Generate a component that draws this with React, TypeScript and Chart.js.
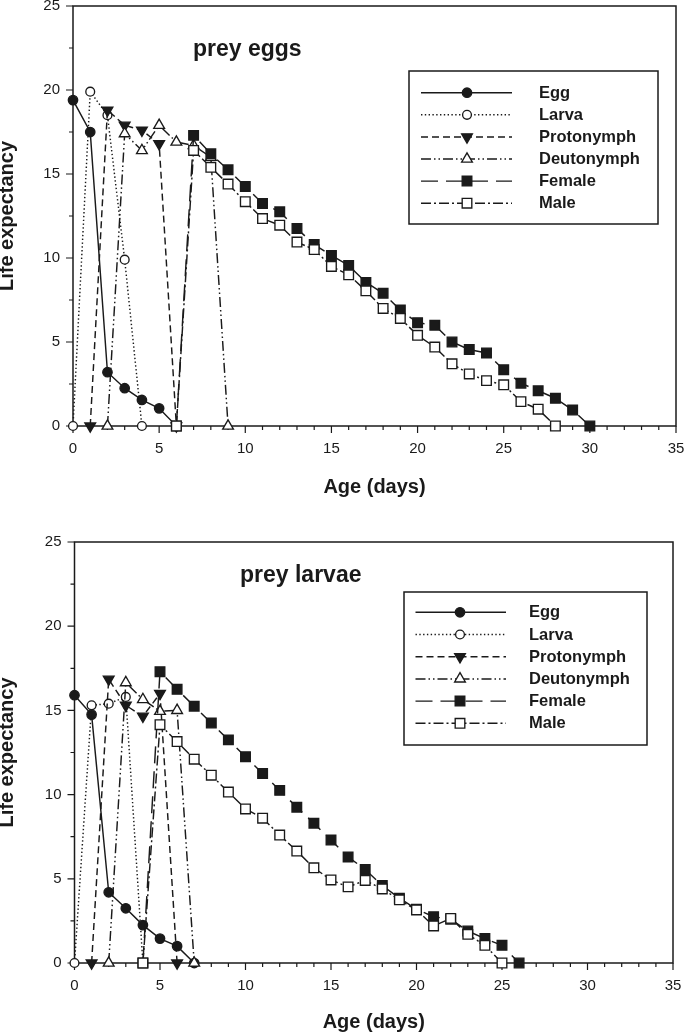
import React, { useEffect, useRef } from 'react';
import { Chart, registerables } from 'chart.js';
import { drawPoint } from 'chart.js/helpers';

Chart.register(...registerables);

const FONT = "'Liberation Sans', Arial, Helvetica, sans-serif";
const INK = '#1a1a1a';

// ---------- axis ----------
const X_MIN = 0;
const X_MAX = 35;
const Y_MIN = 0;
const Y_MAX = 25;
const X_TITLE = 'Age (days)';
const Y_TITLE = 'Life expectancy';
const STAGES = ['Egg', 'Larva', 'Protonymph', 'Deutonymph', 'Female', 'Male'];

// ---------- panel 1: prey eggs ----------
const eggsTitle = 'prey eggs';
const eggsEggDays = [0, 1, 2, 3, 4, 5, 6];
const eggsEgg = [19.4, 17.5, 3.2, 2.25, 1.55, 1.05, 0];
const eggsLarvaDays = [0, 1, 2, 3, 4];
const eggsLarva = [0, 19.9, 18.5, 9.9, 0];
const eggsProtoDays = [1, 2, 3, 4, 5, 6];
const eggsProto = [0, 18.8, 17.9, 17.6, 16.8, 0];
const eggsDeutoDays = [2, 3, 4, 5, 6, 7, 8, 9];
const eggsDeuto = [0, 17.4, 16.4, 17.9, 16.9, 16.7, 16.0, 0];
const eggsFemaleDays = [6, 7, 8, 9, 10, 11, 12, 13, 14, 15, 16, 17, 18, 19, 20, 21, 22, 23, 24, 25, 26, 27, 28, 29, 30];
const eggsFemale = [0, 17.3, 16.2, 15.25, 14.25, 13.25, 12.75, 11.75, 10.8, 10.15, 9.55, 8.55, 7.9, 6.9, 6.15, 6.0, 5.0, 4.55, 4.35, 3.35, 2.55, 2.1, 1.65, 0.95, 0];
const eggsMaleDays = [6, 7, 8, 9, 10, 11, 12, 13, 14, 15, 16, 17, 18, 19, 20, 21, 22, 23, 24, 25, 26, 27, 28];
const eggsMale = [0, 16.4, 15.4, 14.4, 13.35, 12.35, 11.95, 10.95, 10.5, 9.5, 9.0, 8.05, 7.0, 6.4, 5.4, 4.7, 3.7, 3.1, 2.7, 2.45, 1.45, 1.0, 0];

// ---------- panel 2: prey larvae ----------
const larvaeTitle = 'prey larvae';
const larvaeEggDays = [0, 1, 2, 3, 4, 5, 6, 7];
const larvaeEgg = [15.9, 14.75, 4.2, 3.25, 2.25, 1.45, 1.0, 0];
const larvaeLarvaDays = [0, 1, 2, 3, 4];
const larvaeLarva = [0, 15.3, 15.4, 15.8, 0];
const larvaeProtoDays = [1, 2, 3, 4, 5, 6];
const larvaeProto = [0, 16.85, 15.3, 14.65, 16.0, 0];
const larvaeDeutoDays = [2, 3, 4, 5, 6, 7];
const larvaeDeuto = [0, 16.65, 15.65, 14.95, 15.0, 0];
const larvaeFemaleDays = [4, 5, 6, 7, 8, 9, 10, 11, 12, 13, 14, 15, 16, 17, 18, 19, 20, 21, 22, 23, 24, 25, 26];
const larvaeFemale = [0, 17.3, 16.25, 15.25, 14.25, 13.25, 12.25, 11.25, 10.25, 9.25, 8.3, 7.3, 6.3, 5.55, 4.6, 3.85, 3.2, 2.75, 2.6, 1.9, 1.45, 1.05, 0];
const larvaeMaleDays = [4, 5, 6, 7, 8, 9, 10, 11, 12, 13, 14, 15, 16, 17, 18, 19, 20, 21, 22, 23, 24, 25];
const larvaeMale = [0, 14.15, 13.15, 12.1, 11.15, 10.15, 9.15, 8.6, 7.6, 6.65, 5.65, 4.93, 4.52, 4.9, 4.4, 3.75, 3.15, 2.2, 2.65, 1.7, 1.05, 0];

// ---------- styles per stage ----------
const STAGE_STYLES = [
  { dash: [], pointStyle: 'circle', rotation: 0, radius: 4.7, fill: INK },
  { dash: [1.4, 2.4], pointStyle: 'circle', rotation: 0, radius: 4.4, fill: '#ffffff' },
  { dash: [7, 4], pointStyle: 'triangle', rotation: 180, radius: 6.2, fill: INK },
  { dash: [10, 3, 1.5, 3, 1.5, 3], pointStyle: 'triangle', rotation: 0, radius: 6.2, fill: '#ffffff' },
  { dash: [17, 8], pointStyle: 'rect', rotation: 0, radius: 6.8, fill: INK },
  { dash: [10, 3, 2, 3], pointStyle: 'rect', rotation: 0, radius: 6.8, fill: '#ffffff' },
];

function pts(days: number[], vals: number[]) {
  return days.map((d, i) => ({ x: d, y: vals[i] }));
}

function buildDatasets(series: { days: number[]; vals: number[] }[]) {
  return series.map((s, i) => {
    const st = STAGE_STYLES[i];
    return {
      label: STAGES[i],
      data: pts(s.days, s.vals),
      borderColor: INK,
      borderWidth: 1.45,
      borderDash: st.dash,
      pointStyle: st.pointStyle,
      pointRotation: st.rotation,
      pointRadius: st.radius,
      pointBackgroundColor: st.fill,
      pointBorderColor: INK,
      pointBorderWidth: 1.35,
      tension: 0,
      fill: false,
      clip: false,
      order: series.length - i,
    };
  });
}

const frameTicksPlugin = {
  id: 'frameTicks',
  beforeDatasetsDraw(chart: any) {
    const { ctx, chartArea: a, scales } = chart;
    ctx.save();
    ctx.strokeStyle = INK;
    ctx.lineWidth = 1.5;
    ctx.strokeRect(a.left, a.top, a.right - a.left, a.bottom - a.top);
    ctx.lineWidth = 1.2;
    ctx.beginPath();
    const xs = scales.x;
    xs.ticks.forEach((t: any) => {
      const p = xs.getPixelForValue(t.value);
      const len = t.value % 5 === 0 ? 7 : 4;
      ctx.moveTo(p, a.bottom);
      ctx.lineTo(p, a.bottom + len);
    });
    const ys = scales.y;
    ys.ticks.forEach((t: any) => {
      const p = ys.getPixelForValue(t.value);
      const len = t.value % 5 === 0 ? 7 : 4;
      ctx.moveTo(a.left, p);
      ctx.lineTo(a.left - len, p);
    });
    ctx.stroke();
    ctx.restore();
  },
};

const decorPlugin = {
  id: 'panelDecor',
  afterDraw(chart: any, _args: any, o: any) {
    const { ctx, chartArea: a } = chart;
    ctx.save();
    // panel title
    ctx.fillStyle = INK;
    ctx.font = `bold ${o.titleSize}px ${FONT}`;
    ctx.textAlign = 'left';
    ctx.textBaseline = 'alphabetic';
    ctx.fillText(o.title, a.left + o.titleDx, a.top + o.titleDy);
    // legend box
    const bx = a.left + o.boxDx;
    const by = a.top + o.boxDy;
    ctx.strokeStyle = INK;
    ctx.lineWidth = 1.5;
    ctx.strokeRect(bx, by, o.boxW, o.boxH);
    chart.data.datasets.forEach((ds: any, i: number) => {
      const y = by + o.row0 + i * o.rowGap;
      ctx.save();
      ctx.strokeStyle = ds.borderColor;
      ctx.lineWidth = ds.borderWidth;
      ctx.setLineDash(ds.borderDash || []);
      ctx.beginPath();
      ctx.moveTo(bx + o.lineX0, y);
      ctx.lineTo(bx + o.lineX1, y);
      ctx.stroke();
      ctx.setLineDash([]);
      ctx.fillStyle = ds.pointBackgroundColor;
      ctx.strokeStyle = ds.pointBorderColor;
      ctx.lineWidth = ds.pointBorderWidth;
      drawPoint(
        ctx,
        { pointStyle: ds.pointStyle, rotation: ds.pointRotation, radius: ds.pointRadius, borderWidth: ds.pointBorderWidth },
        bx + o.markX,
        y
      );
      ctx.restore();
      ctx.fillStyle = INK;
      ctx.font = `bold ${o.legendSize}px ${FONT}`;
      ctx.textAlign = 'left';
      ctx.textBaseline = 'middle';
      ctx.fillText(ds.label, bx + o.textX, y + 0.5);
    });
    ctx.restore();
  },
};

type PanelSpec = {
  left: number; top: number; w: number; h: number;
  padTop: number; padRight: number; yAxisW: number; xAxisH: number;
  xTitlePad: number; yTitlePad: number;
  decor: any;
  series: { days: number[]; vals: number[] }[];
};

function makeConfig(p: PanelSpec): any {
  const tickFont = { family: FONT, size: 15 };
  const titleFont = { family: FONT, size: 20, weight: 'bold' };
  return {
    type: 'line',
    data: { datasets: buildDatasets(p.series) },
    plugins: [frameTicksPlugin, decorPlugin],
    options: {
      animation: false,
      responsive: true,
      maintainAspectRatio: false,
      events: [],
      layout: { padding: { left: 0, right: p.padRight, top: p.padTop, bottom: 0 } },
      plugins: {
        legend: { display: false },
        tooltip: { enabled: false },
        panelDecor: p.decor,
      },
      scales: {
        x: {
          type: 'linear',
          min: X_MIN,
          max: X_MAX,
          afterFit: (s: any) => { s.height = p.xAxisH; },
          border: { display: false },
          grid: { display: true, drawOnChartArea: false, drawTicks: true, tickLength: 7, tickColor: 'rgba(0,0,0,0)' },
          ticks: {
            stepSize: 1,
            autoSkip: false,
            maxRotation: 0,
            padding: 7,
            color: INK,
            font: tickFont,
            callback: (v: any) => (Number(v) % 5 === 0 ? String(v) : ''),
          },
          title: { display: true, text: X_TITLE, color: INK, font: titleFont, padding: { top: 0, bottom: p.xTitlePad } },
        },
        y: {
          type: 'linear',
          min: Y_MIN,
          max: Y_MAX,
          afterFit: (s: any) => { s.width = p.yAxisW; },
          border: { display: false },
          grid: { display: true, drawOnChartArea: false, drawTicks: true, tickLength: 7, tickColor: 'rgba(0,0,0,0)' },
          ticks: {
            stepSize: 2.5,
            autoSkip: false,
            padding: 6,
            color: INK,
            font: tickFont,
            callback: (v: any) => (Number(v) % 5 === 0 ? String(v) : ''),
          },
          title: { display: true, text: Y_TITLE, color: INK, font: titleFont, padding: { top: p.yTitlePad, bottom: 0 } },
        },
      },
    },
  };
}

const panels: PanelSpec[] = [
  {
    left: -6, top: -40, w: 706, h: 550,
    padTop: 46, padRight: 24, yAxisW: 79, xAxisH: 84, xTitlePad: 11, yTitlePad: 1.5,
    decor: {
      title: eggsTitle, titleSize: 23, titleDx: 120, titleDy: 49.5,
      boxDx: 336, boxDy: 65, boxW: 249, boxH: 153,
      row0: 21.7, rowGap: 22.1, lineX0: 12, lineX1: 103, markX: 58, textX: 130, legendSize: 16.5,
    },
    series: [
      { days: eggsEggDays, vals: eggsEgg },
      { days: eggsLarvaDays, vals: eggsLarva },
      { days: eggsProtoDays, vals: eggsProto },
      { days: eggsDeutoDays, vals: eggsDeuto },
      { days: eggsFemaleDays, vals: eggsFemale },
      { days: eggsMaleDays, vals: eggsMale },
    ],
  },
  {
    left: -6, top: 500, w: 706, h: 540,
    padTop: 42, padRight: 27, yAxisW: 80.5, xAxisH: 77, xTitlePad: 6, yTitlePad: 1.5,
    decor: {
      title: larvaeTitle, titleSize: 23, titleDx: 165.5, titleDy: 40,
      boxDx: 329.5, boxDy: 50, boxW: 243, boxH: 153,
      row0: 20.3, rowGap: 22.2, lineX0: 11.5, lineX1: 102, markX: 56, textX: 125, legendSize: 16.5,
    },
    series: [
      { days: larvaeEggDays, vals: larvaeEgg },
      { days: larvaeLarvaDays, vals: larvaeLarva },
      { days: larvaeProtoDays, vals: larvaeProto },
      { days: larvaeDeutoDays, vals: larvaeDeuto },
      { days: larvaeFemaleDays, vals: larvaeFemale },
      { days: larvaeMaleDays, vals: larvaeMale },
    ],
  },
];

function Panel({ spec }: { spec: PanelSpec }) {
  const ref = useRef<HTMLCanvasElement | null>(null);
  useEffect(() => {
    if (!ref.current) return;
    const chart = new Chart(ref.current, makeConfig(spec));
    return () => chart.destroy();
  }, [spec]);
  return (
    <div style={{ position: 'absolute', left: spec.left, top: spec.top, width: spec.w, height: spec.h }}>
      <canvas ref={ref} />
    </div>
  );
}

export default function App() {
  return (
    <div style={{ position: 'fixed', left: 0, top: 0, width: 685, height: 1034, overflow: 'hidden', background: '#ffffff' }}>
      {panels.map((p, i) => (
        <Panel key={i} spec={p} />
      ))}
    </div>
  );
}
